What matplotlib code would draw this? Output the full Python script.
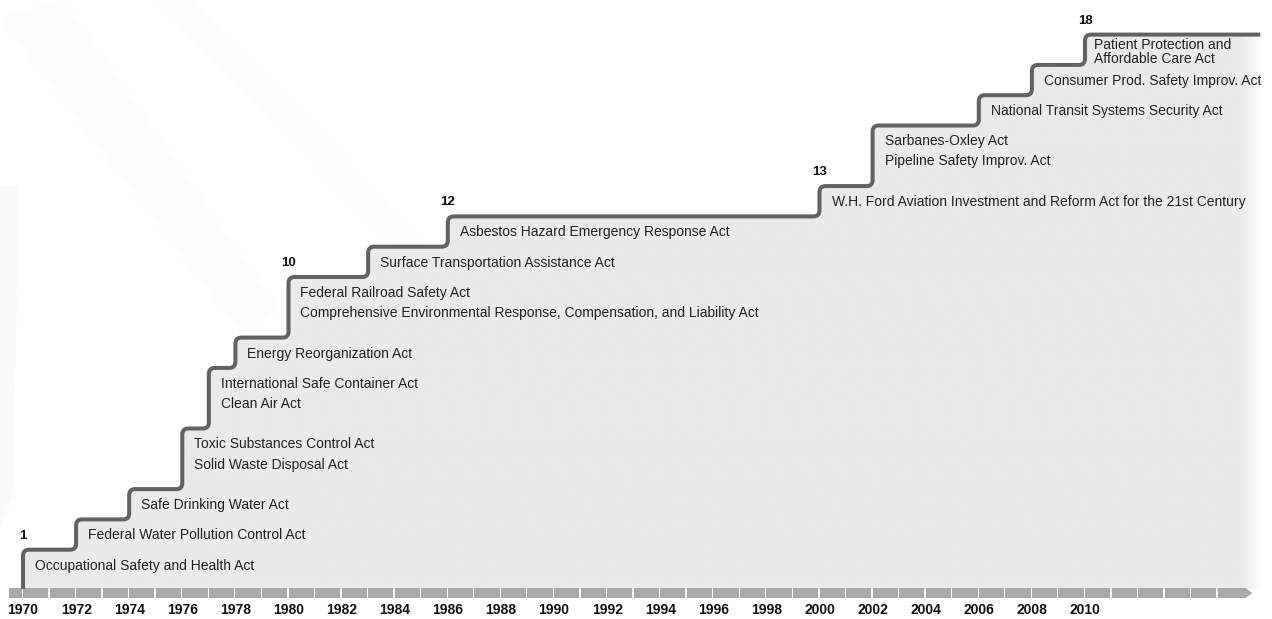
import numpy as np
import matplotlib.pyplot as plt
from matplotlib.path import Path
from matplotlib.patches import PathPatch, Polygon, Rectangle

plt.rcParams['font.family'] = ['Liberation Sans', 'DejaVu Sans']

# years in which the cumulative number of acts goes up
step_years = [1970, 1972, 1974, 1976, 1977, 1978, 1980, 1983, 1986, 2000, 2002, 2006, 2008, 2010]
step_counts = [1, 2, 3, 5, 7, 8, 10, 11, 12, 13, 15, 16, 17, 18]
acts = [
    ["Occupational Safety and Health Act"],
    ["Federal Water Pollution Control Act"],
    ["Safe Drinking Water Act"],
    ["Toxic Substances Control Act", "Solid Waste Disposal Act"],
    ["International Safe Container Act", "Clean Air Act"],
    ["Energy Reorganization Act"],
    ["Federal Railroad Safety Act",
     "Comprehensive Environmental Response, Compensation, and Liability Act"],
    ["Surface Transportation Assistance Act"],
    ["Asbestos Hazard Emergency Response Act"],
    ["W.H. Ford Aviation Investment and Reform Act for the 21st Century"],
    ["Sarbanes-Oxley Act", "Pipeline Safety Improv. Act"],
    ["National Transit Systems Security Act"],
    ["Consumer Prod. Safety Improv. Act"],
    ["Patient Protection and\nAffordable Care Act"],
]
shown_counts = [1, 10, 12, 13, 18]
tick_years = list(range(1970, 2011, 2))
end_year = 2016.6
bar_end_year = 2015

# pixel scale helpers (figure is drawn 1:1 at 100 dpi)
PX_YEAR = 26.55
PX_COUNT = 30.3
Y0 = 580  # pixel row of count 0
W, H = 1272, 619

fig = plt.figure(figsize=(W / 100, H / 100), dpi=100)
ax = fig.add_axes([0, 0, 1, 1])
ax.set_xlim(1970 - 23 / PX_YEAR, 1970 + (W - 23) / PX_YEAR)
ax.set_ylim((Y0 - H) / PX_COUNT, Y0 / PX_COUNT)
ax.axis('off')

# very faint diagonal streaks in the background
for pts, c in [([(0, 0.7), (0.015, 0.7), (0.01, 0.2), (0, 0.15)], '#fafafa'),
               ([(0.0, 0.97), (0.05, 1), (0.22, 0.5), (0.19, 0.46)], '#fcfcfc'),
               ([(0.12, 1), (0.15, 1), (0.34, 0.6), (0.32, 0.58)], '#fdfdfd')]:
    ax.add_patch(Polygon(pts, closed=True, transform=ax.transAxes, color=c, lw=0, zorder=0))

base = -0.3

# step outline with rounded corners
corners = [(1970, step_counts[0])]
prev = step_counts[0]
for yr, c in zip(step_years[1:], step_counts[1:]):
    corners.append((yr, prev))
    corners.append((yr, c))
    prev = c
pts = [(1970, base)] + corners + [(end_year, step_counts[-1])]
rx, ry = 6 / PX_YEAR, 6 / PX_COUNT
verts, codes = [pts[0]], [Path.MOVETO]
for i in range(1, len(pts) - 1):
    a, p, b = np.array(pts[i - 1]), np.array(pts[i]), np.array(pts[i + 1])
    def toward(q):
        d = q - p
        if abs(d[0]) > 1e-9:
            return p + np.array([np.sign(d[0]) * rx, 0])
        return p + np.array([0, np.sign(d[1]) * ry])
    verts += [tuple(toward(a)), tuple(p), tuple(toward(b))]
    codes += [Path.LINETO, Path.CURVE3, Path.CURVE3]
verts.append(pts[-1])
codes.append(Path.LINETO)

fill_path = Path(verts + [(end_year, base), (1970, base), (1970, base)],
                 codes + [Path.LINETO, Path.LINETO, Path.CLOSEPOLY])
clip = PathPatch(fill_path, transform=ax.transData)
grad_x = np.linspace(1970, end_year + 0.1, 600)
alpha = np.clip((end_year + 0.1 - grad_x) / 0.8, 0, 1)
img = np.zeros((2, len(grad_x), 4))
img[..., :3] = 234 / 255
img[..., 3] = alpha
im = ax.imshow(img, extent=[1970, end_year + 0.1, base, 19], aspect='auto',
               interpolation='bilinear', zorder=1)
im.set_clip_path(clip)

ax.add_patch(PathPatch(Path(verts, codes), fill=False, ec='#626262', lw=2.9,
                       capstyle='butt', joinstyle='round', zorder=3))

# segmented axis bar with arrow
bt, bb = (Y0 - 588) / PX_COUNT, (Y0 - 598) / PX_COUNT
gap = 1.3 / PX_YEAR
bar_col = '#a9a9a9'
ax.add_patch(Rectangle((1969.47, bb), 1970 - 1969.47 - gap, bt - bb, color=bar_col, lw=0, zorder=2))
for yr in range(1970, bar_end_year):
    ax.add_patch(Rectangle((yr, bb), 1 - gap, bt - bb, color=bar_col, lw=0, zorder=2))
mid = (bt + bb) / 2
ax.add_patch(Polygon([(bar_end_year, bt), (bar_end_year + 1.05, bt), (bar_end_year + 1.3, mid),
                      (bar_end_year + 1.05, bb), (bar_end_year, bb)],
                     closed=True, color=bar_col, lw=0, zorder=2))

for yr in tick_years:
    ax.text(yr, (Y0 - 610) / PX_COUNT, str(yr), ha='center', va='center',
            fontsize=10, fontweight='bold', color='#111111')

# act labels
for yr, c, names in zip(step_years, step_counts, acts):
    if '\n' in names[0]:
        ax.annotate(names[0], (yr, c), xytext=(9, -3), textcoords='offset pixels',
                    ha='left', va='top', fontsize=10, color='#222222',
                    linespacing=1.0, zorder=4)
        continue
    for name, dy in zip(names, [-16, -36]):
        ax.annotate(name, (yr, c), xytext=(12, dy), textcoords='offset pixels',
                    ha='left', va='center', fontsize=10, color='#222222', zorder=4)

# milestone counts
for c in shown_counts:
    yr = step_years[step_counts.index(c)]
    ax.annotate(str(c), (yr, c), xytext=(0, 14), textcoords='offset pixels',
                ha='center', va='center', fontsize=9.5, fontweight='bold', color='#111111')

fig.savefig('out.png', dpi=100, facecolor='white')
